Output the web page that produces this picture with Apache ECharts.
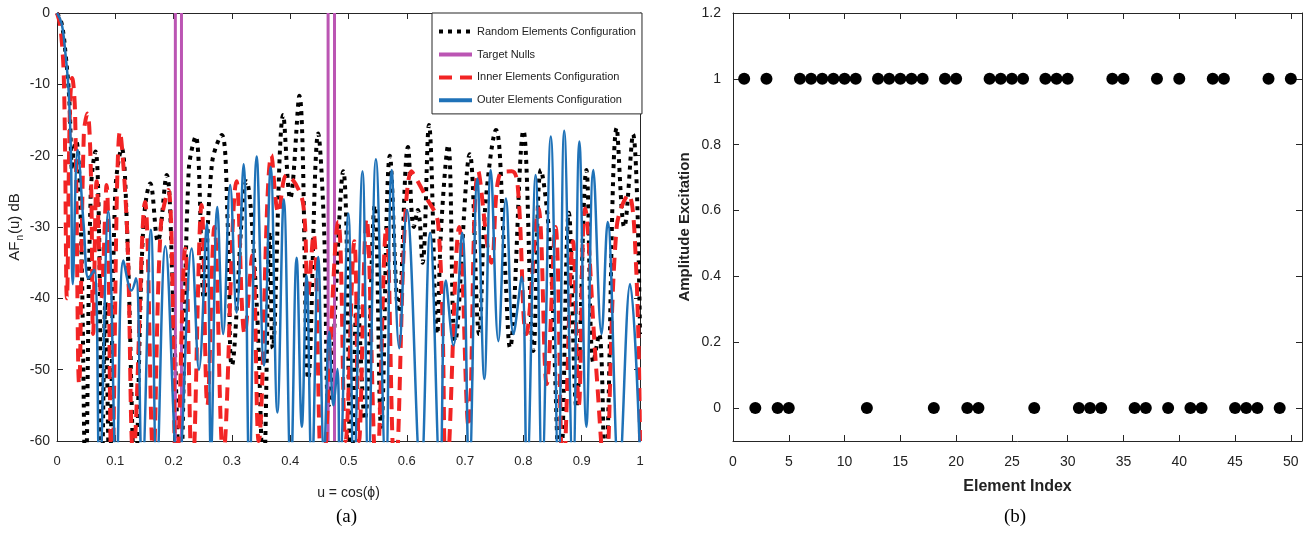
<!DOCTYPE html>
<html>
<head>
<meta charset="utf-8">
<script src="https://cdn.jsdelivr.net/npm/echarts@6/dist/echarts.min.js"></script>
<style>
  html, body { margin: 0; padding: 0; background: #fff; }
  #chart { width: 1311px; height: 541px; }
</style>
</head>
<body>
<div id="chart"></div>
<script>
// (a) array factor, [u, dB]
var randomPts = [
  [0,0],[0.008,-1.5],[0.015,-6],[0.021,-12],[0.026,-22],[0.029,-19],[0.033,-18],[0.041,-30],[0.049,-65],
  [0.058,-25],[0.066,-19.4],[0.072,-30],[0.077,-65],[0.083,-40.5],[0.09,-65],[0.1,-25],[0.111,-19],
  [0.12,-30],[0.134,-65],[0.148,-30],[0.16,-23.9],[0.173,-32],[0.188,-22.7],[0.199,-40],[0.211,-65],
  [0.226,-22],[0.238,-17.3],[0.252,-40],[0.266,-21],[0.2825,-17.1],[0.293,-30],[0.3,-49.4],[0.325,-23.6],
  [0.342,-40],[0.354,-65],[0.365,-30.7],[0.37,-47],[0.388,-14.3],[0.4,-26],[0.4157,-11.6],[0.431,-51.3],
  [0.448,-16.9],[0.458,-30],[0.466,-55],[0.491,-22.2],[0.505,-65],[0.515,-40],[0.528,-57],[0.545,-27],
  [0.556,-58],[0.571,-20],[0.586,-42],[0.602,-18.8],[0.612,-30],[0.619,-27.6],[0.627,-35],[0.638,-15.7],
  [0.652,-45],[0.659,-30],[0.671,-18.5],[0.683,-46],[0.708,-19.8],[0.724,-45],[0.735,-26.7],[0.753,-16.4],
  [0.768,-35],[0.777,-46.9],[0.8,-16.5],[0.817,-47.4],[0.83,-22],[0.845,-32],[0.863,-65],[0.878,-28],
  [0.891,-55.3],[0.908,-22],[0.92,-49],[0.93,-45],[0.94,-65],[0.96,-16.1],[0.973,-30],[0.988,-17],[1,-45]
];
var innerPts = [
  [0,0],[0.006,-2],[0.012,-10],[0.017,-40],[0.022,-14],[0.026,-9.1],[0.031,-14],[0.038,-52],[0.046,-17],
  [0.052,-14.1],[0.058,-22],[0.062,-45],[0.068,-23.6],[0.076,-40],[0.085,-24.1],[0.094,-65],[0.108,-16.6],
  [0.12,-30],[0.131,-62],[0.151,-26.5],[0.165,-62],[0.178,-30],[0.191,-24.8],[0.205,-65],[0.22,-33],
  [0.232,-65],[0.248,-26.9],[0.258,-55],[0.27,-30],[0.285,-62],[0.308,-23.6],[0.322,-45],[0.335,-34],
  [0.346,-60],[0.368,-19.9],[0.38,-28],[0.394,-22.7],[0.4225,-26.9],[0.43,-40],[0.44,-31],[0.455,-65],
  [0.4825,-29.3],[0.495,-60],[0.51,-32],[0.518,-60],[0.531,-28.8],[0.548,-65],[0.565,-30],[0.58,-65],
  [0.608,-22.2],[0.631,-25.5],[0.654,-29.7],[0.668,-65],[0.69,-30],[0.706,-58],[0.7227,-22.2],[0.745,-35],
  [0.76,-22.5],[0.78,-22.2],[0.79,-24],[0.805,-45],[0.8256,-27.4],[0.84,-52],[0.855,-30],[0.868,-65],
  [0.885,-32],[0.895,-55],[0.9057,-27.4],[0.925,-50],[0.94,-65],[0.96,-30],[0.98,-25.5],[0.993,-35],[1,-60]
];
var outerPts = [
  [0,0],[0.008,-1.5],[0.014,-5.3],[0.02,-11],[0.024,-20],[0.027,-38],[0.0355,-19.2],[0.046,-30],
  [0.054,-37.2],[0.064,-36],[0.073,-65],[0.088,-27.8],[0.102,-65],[0.114,-34.7],[0.128,-38.9],
  [0.1355,-37.2],[0.146,-65],[0.161,-30.4],[0.171,-65],[0.186,-32.7],[0.208,-65],[0.231,-33],
  [0.2435,-50],[0.257,-29.5],[0.264,-62],[0.275,-27.2],[0.285,-45],[0.297,-24.1],[0.308,-42],
  [0.32,-21.2],[0.33,-65],[0.3425,-20.1],[0.355,-49.4],[0.3665,-21.6],[0.378,-56],[0.389,-26.1],
  [0.401,-65],[0.411,-34.3],[0.42,-58],[0.428,-36.8],[0.437,-65],[0.448,-34.2],[0.458,-62],
  [0.467,-44.7],[0.474,-55],[0.481,-49.9],[0.485,-65],[0.4997,-28.1],[0.509,-65],[0.524,-22.2],
  [0.534,-65],[0.547,-20.5],[0.564,-65],[0.574,-22],[0.587,-47],[0.6,-27.6],[0.624,-65],[0.64,-30.8],
  [0.657,-65],[0.667,-37.5],[0.68,-46.6],[0.695,-30.8],[0.707,-65],[0.721,-23.2],[0.733,-51.3],
  [0.744,-22],[0.757,-46],[0.77,-26],[0.783,-45],[0.797,-37],[0.806,-65],[0.821,-22.7],[0.832,-65],
  [0.847,-17.3],[0.86,-65],[0.87,-16.5],[0.885,-65],[0.896,-18],[0.908,-58],[0.92,-22],[0.934,-45],
  [0.9445,-29.3],[0.964,-65],[0.983,-38],[1,-62]
];
var nullsU = [0.203, 0.2135, 0.465, 0.476];

// (b) amplitude excitation per element
var elementIdx = [];
for (var i = 1; i <= 50; i++) elementIdx.push(i);
var amplitude = [1,0,1,0,0,1,1,1,1,1, 1,0,1,1,1,1,1,0,1,1, 0,0,1,1,1,1,0,1,1,1,
                 0,0,0,1,1,0,0,1,0,1, 0,0,1,1,0,0,0,1,0,1];
var xTicksB = [0,5,10,15,20,25,30,35,40,45,50];
var yTicksB = [0,0.2,0.4,0.6,0.8,1,1.2];

var sans = "'Liberation Sans', Arial, sans-serif";
var axCol = "#262626";

var chart = echarts.init(document.getElementById("chart"));

function boxAxis(extra) {
  var base = {
    axisLine: { show: true, onZero: false, lineStyle: { color: axCol, width: 1 } },
    axisTick: { show: true, inside: true, length: 6, lineStyle: { color: axCol } },
    splitLine: { show: false },
    axisLabel: { show: false }
  };
  return Object.assign(base, extra);
}

var series = [
  {
    name: "Random Elements Configuration", type: "line", xAxisIndex: 0, yAxisIndex: 0,
    data: randomPts, smooth: 0.4, symbol: "none",
    lineStyle: { color: "#000", width: 4, type: [4, 5] }, itemStyle: { color: "#000" }
  }
];
nullsU.forEach(function (u) {
  series.push({
    name: "Target Nulls", type: "line", xAxisIndex: 0, yAxisIndex: 0,
    data: [[u, 0], [u, -60]], symbol: "none",
    lineStyle: { color: "#bb55b3", width: 3 }, itemStyle: { color: "#bb55b3" }
  });
});
series.push({
  name: "Inner Elements Configuration", type: "line", xAxisIndex: 0, yAxisIndex: 0,
  data: innerPts, smooth: 0.4, symbol: "none",
  lineStyle: { color: "#f22424", width: 4, type: [13, 8] }, itemStyle: { color: "#f22424" }
});
series.push({
  name: "Outer Elements Configuration", type: "line", xAxisIndex: 0, yAxisIndex: 0,
  data: outerPts, smooth: 0.4, symbol: "none",
  lineStyle: { color: "#1f72b8", width: 2.5 }, itemStyle: { color: "#1f72b8" }
});
series.push({
  type: "scatter", xAxisIndex: 2, yAxisIndex: 2,
  data: elementIdx.map(function (n, k) { return [n, amplitude[k]]; }),
  symbolSize: 12, itemStyle: { color: "#000", opacity: 1 }
});

var option = {
  animation: false,
  backgroundColor: "#fff",
  grid: [
    { left: 57, top: 13, width: 583, height: 428 },
    { left: 733, top: 13, width: 569, height: 428 }
  ],
  legend: {
    data: ["Random Elements Configuration", "Target Nulls",
           "Inner Elements Configuration", "Outer Elements Configuration"],
    orient: "vertical", left: 432, top: 13,
    padding: [13, 6, 8, 5], itemGap: 11.7, itemWidth: 33, itemHeight: 14,
    backgroundColor: "#fff", borderColor: axCol, borderWidth: 1,
    itemStyle: { opacity: 0 },
    lineStyle: { width: 4 },
    textStyle: { fontFamily: sans, fontSize: 11, color: "#222" }
  },
  xAxis: [
    boxAxis({
      type: "value", gridIndex: 0, min: 0, max: 1, interval: 0.1, position: "bottom",
      name: "u = cos(ϕ)", nameLocation: "middle", nameGap: 45,
      nameTextStyle: { fontFamily: sans, fontSize: 14, color: "#222" },
      axisLabel: { show: true, margin: 14, fontFamily: sans, fontSize: 13, color: axCol }
    }),
    boxAxis({ type: "value", gridIndex: 0, min: 0, max: 1, interval: 0.1, position: "top" }),
    boxAxis({
      type: "value", gridIndex: 1, min: 0, max: 51, position: "bottom",
      name: "Element Index", nameLocation: "middle", nameGap: 38,
      nameTextStyle: { fontFamily: sans, fontSize: 16, fontWeight: "bold", color: "#222" },
      axisTick: { show: true, inside: true, length: 6, customValues: xTicksB, lineStyle: { color: axCol } },
      axisLabel: { show: true, margin: 14, customValues: xTicksB, fontFamily: sans, fontSize: 14, color: "#222" }
    }),
    boxAxis({
      type: "value", gridIndex: 1, min: 0, max: 51, position: "top",
      axisTick: { show: true, inside: true, length: 6, customValues: xTicksB, lineStyle: { color: axCol } }
    })
  ],
  yAxis: [
    boxAxis({
      type: "value", gridIndex: 0, min: -60, max: 0, interval: 10, position: "left",
      name: "{a|AF}{s|n}{a|(u) dB}", nameLocation: "middle", nameGap: 32, nameRotate: 90,
      nameTextStyle: {
        rich: {
          a: { fontFamily: sans, fontSize: 15, color: "#222" },
          s: { fontFamily: sans, fontSize: 10, color: "#222", padding: [10, 1, 0, 1] }
        }
      },
      axisLabel: { show: true, margin: 7, fontFamily: sans, fontSize: 14, color: axCol }
    }),
    boxAxis({ type: "value", gridIndex: 0, min: -60, max: 0, interval: 10, position: "right" }),
    boxAxis({
      type: "value", gridIndex: 1, min: -0.1, max: 1.2, position: "left",
      name: "Amplitude Excitation", nameLocation: "middle", nameGap: 41, nameRotate: 90,
      nameTextStyle: { fontFamily: sans, fontSize: 15, fontWeight: "bold", color: "#222" },
      axisTick: { show: true, inside: true, length: 6, customValues: yTicksB, lineStyle: { color: axCol } },
      axisLabel: { show: true, margin: 12, customValues: yTicksB, fontFamily: sans, fontSize: 14, color: "#222" }
    }),
    boxAxis({
      type: "value", gridIndex: 1, min: -0.1, max: 1.2, position: "right",
      axisTick: { show: true, inside: true, length: 6, customValues: yTicksB, lineStyle: { color: axCol } }
    })
  ],
  graphic: [
    { type: "text", left: 336, top: 508, style: { text: "(a)", font: "19px 'Liberation Serif', serif", fill: "#000" } },
    { type: "text", left: 1004, top: 508, style: { text: "(b)", font: "19px 'Liberation Serif', serif", fill: "#000" } }
  ],
  series: series
};

chart.setOption(option);
</script>
</body>
</html>
